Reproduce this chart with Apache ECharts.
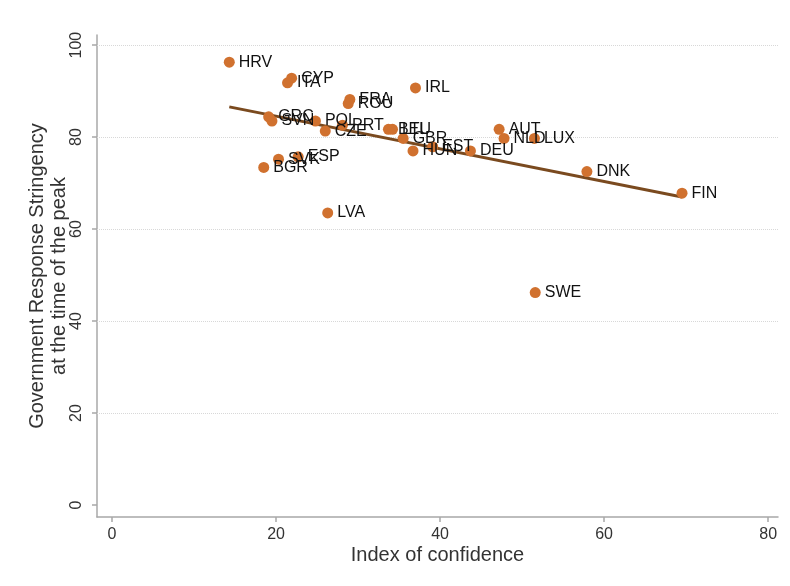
<!DOCTYPE html>
<html>
<head>
<meta charset="utf-8">
<script src="https://cdn.jsdelivr.net/npm/echarts@6/dist/echarts.min.js"></script>
<style>
  html, body { margin: 0; padding: 0; background: #fff; }
  #chart { width: 790px; height: 586px; }
</style>
</head>
<body>
<div id="chart"></div>
<script>
// Country codes, confidence index and peak stringency
const countries = ['HRV','CYP','ITA','IRL','FRA','ROU','GRC','SVN','POL','CZE','PRT','BEL','LTU','GBR','HUN','EST','DEU','AUT','NLD','LUX','DNK','FIN','SWE','LVA','BGR','SVK','ESP'];
const confidence = [14.3, 21.9, 21.4, 37.0, 29.0, 28.8, 19.1, 19.5, 24.8, 26.0, 28.1, 33.7, 34.2, 35.5, 36.7, 39.1, 43.7, 47.2, 47.8, 51.5, 57.9, 69.5, 51.6, 26.3, 18.5, 20.3, 22.7];
const stringency = [96.3, 92.8, 91.8, 90.7, 88.2, 87.3, 84.4, 83.5, 83.5, 81.3, 82.6, 81.7, 81.7, 79.7, 77.0, 77.9, 77.0, 81.7, 79.7, 79.7, 72.5, 67.8, 46.2, 63.5, 73.4, 75.2, 75.7];

const xTicks = [0, 20, 40, 60, 80];
const yTicks = [0, 20, 40, 60, 80, 100];

// Least-squares fit over the plotted countries
function linearFit(xs, ys) {
  const n = xs.length;
  const mx = xs.reduce((a, b) => a + b, 0) / n;
  const my = ys.reduce((a, b) => a + b, 0) / n;
  let sxy = 0, sxx = 0;
  for (let i = 0; i < n; i++) {
    sxy += (xs[i] - mx) * (ys[i] - my);
    sxx += (xs[i] - mx) * (xs[i] - mx);
  }
  const b = sxy / sxx;
  const a = my - b * mx;
  const x0 = Math.min(...xs), x1 = Math.max(...xs);
  return [[x0, a + b * x0], [x1, a + b * x1]];
}

const points = countries.map((c, i) => ({ name: c, value: [confidence[i], stringency[i]] }));
const fitLine = linearFit(confidence, stringency);

// Dotted horizontal guides at every labelled level above zero
const gridGuides = yTicks.filter(v => v > 0).map(v => ({ yAxis: v }));

const FONT = '"Liberation Sans", Arial, Helvetica, sans-serif';
const chart = echarts.init(document.getElementById('chart'), null, { renderer: 'canvas' });

chart.setOption({
  animation: false,
  backgroundColor: '#ffffff',
  grid: { left: 97, right: 12, top: 35, bottom: 69, containLabel: false },
  xAxis: {
    type: 'value',
    min: -1.83,
    max: 81.2,
    name: 'Index of confidence',
    nameLocation: 'middle',
    nameGap: 28,
    nameMoveOverlap: false,
    nameTextStyle: { fontFamily: FONT, fontSize: 20, color: '#333' },
    axisLine: { show: true, onZero: false, lineStyle: { color: '#a8a8a8', width: 1.5 } },
    axisTick: { show: true, length: 5, customValues: xTicks, lineStyle: { color: '#a8a8a8', width: 1.5 } },
    axisLabel: { customValues: xTicks, margin: 10, fontFamily: FONT, fontSize: 16, color: '#333' },
    splitLine: { show: false }
  },
  yAxis: {
    type: 'value',
    min: -2.61,
    max: 102.2,
    name: 'Government Response Stringency\nat the time of the peak',
    nameLocation: 'middle',
    nameGap: 27,
    nameMoveOverlap: false,
    nameRotate: 90,
    nameTextStyle: { fontFamily: FONT, fontSize: 20, color: '#333', lineHeight: 22 },
    axisLine: { show: true, onZero: false, lineStyle: { color: '#a8a8a8', width: 1.5 } },
    axisTick: { show: true, length: 5, customValues: yTicks, lineStyle: { color: '#a8a8a8', width: 1.5 } },
    axisLabel: { customValues: yTicks, rotate: 90, margin: 12, fontFamily: FONT, fontSize: 16, color: '#333' },
    splitLine: { show: false }
  },
  series: [
    {
      type: 'line',
      data: fitLine,
      symbol: 'none',
      lineStyle: { color: '#7a4a1f', width: 3 },
      z: 2,
      silent: true,
      markLine: {
        silent: true,
        symbol: 'none',
        label: { show: false },
        lineStyle: { color: '#d8d8d8', type: 'dotted', width: 1 },
        data: gridGuides,
        z: 1
      }
    },
    {
      type: 'scatter',
      data: points,
      symbol: 'circle',
      symbolSize: 11,
      itemStyle: { color: '#d0712f', opacity: 1 },
      label: {
        show: true,
        position: 'right',
        distance: 4,
        formatter: '{b}',
        fontFamily: FONT,
        fontSize: 16,
        color: '#111'
      },
      labelLayout: { hideOverlap: false },
      z: 3
    }
  ]
});
</script>
</body>
</html>
